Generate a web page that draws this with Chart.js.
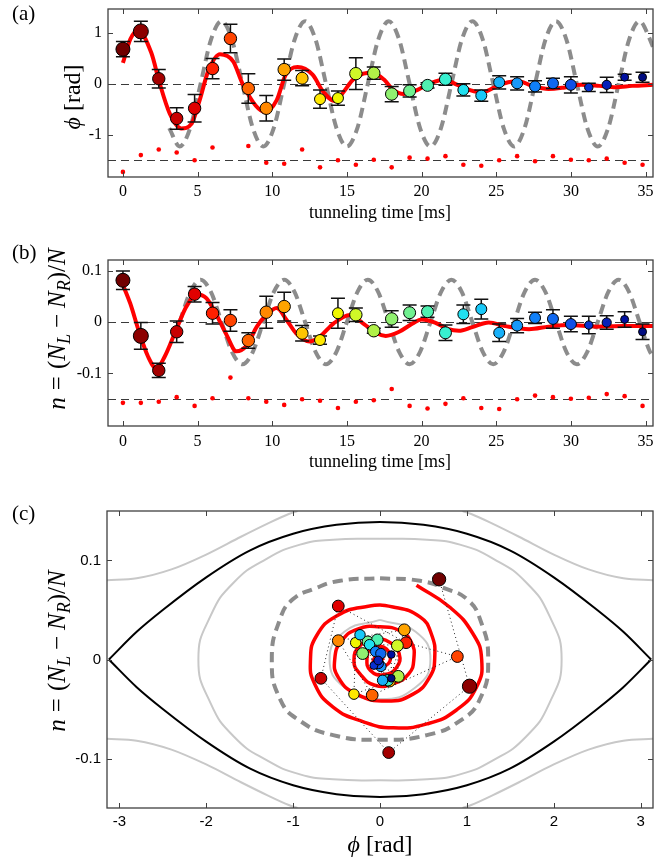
<!DOCTYPE html>
<html>
<head>
<meta charset="utf-8">
<script src="https://cdn.jsdelivr.net/npm/chart.js@4.4.1/dist/chart.umd.min.js"></script>
<style>
  html, body { margin: 0; padding: 0; background: #fff; }
  #wrap { position: relative; width: 672px; height: 858px; }
  canvas { position: absolute; left: 0; }
</style>
</head>
<body>
<div id="wrap">
  <canvas id="chartA" style="top:0px" width="672" height="232"></canvas>
  <canvas id="chartB" style="top:232px" width="672" height="258"></canvas>
  <canvas id="chartC" style="top:490px" width="672" height="368"></canvas>
</div>
<script>
// measured points (shared by all three panels)
const times = [0, 1.2, 2.4, 3.6, 4.8, 6.0, 7.2, 8.4, 9.6, 10.8, 12.0, 13.2, 14.4, 15.6, 16.8,
  18.0, 19.2, 20.4, 21.6, 22.8, 24.0, 25.2, 26.4, 27.6, 28.8, 30.0, 31.2, 32.4, 33.6, 34.8];
const phiData = [0.68, 1.03, 0.10, -0.68, -0.48, 0.30, 0.89, -0.09, -0.48, 0.28, 0.11, -0.30, -0.28, 0.20, 0.21,
  -0.20, -0.14, -0.03, 0.09, -0.12, -0.23, 0.03, 0.01, -0.05, 0.01, -0.02, -0.07, -0.02, 0.13, 0.13];
const phiErr = [0.15, 0.20, 0.18, 0.21, 0.27, 0.20, 0.28, 0.29, 0.25, 0.21, 0.15, 0.18, 0.14, 0.31, 0.12,
  0.15, 0.12, 0.05, 0.12, 0.12, 0.11, 0.13, 0.13, 0.11, 0.10, 0.16, 0.08, 0.15, 0.06, 0.10];
const nData = [0.081, -0.027, -0.094, -0.019, 0.054, 0.017, 0.003, -0.036, 0.019, 0.030, -0.022, -0.035, 0.017, 0.014, -0.017,
  0.006, 0.018, 0.020, -0.021, 0.015, 0.025, -0.021, -0.007, 0.008, 0.006, -0.004, -0.006, -0.001, 0.005, -0.019];
const nErr = [0.018, 0.026, 0.014, 0.021, 0.015, 0.021, 0.021, 0.015, 0.031, 0.028, 0.015, 0.008, 0.029, 0.013, 0.005,
  0.016, 0.015, 0.011, 0.015, 0.018, 0.019, 0.017, 0.014, 0.011, 0.018, 0.015, 0.017, 0.013, 0.015, 0.015];

// residual dots drawn around the lower dashed line
const phiNoise = [-1.73, -1.40, -1.29, -1.35, -1.50, -1.25, null, -1.22, -1.55, -1.57, -1.29, -1.64, -1.50, -1.59, -1.49,
  -1.64, -1.45, -1.47, -1.42, -1.59, -1.61, -1.50, -1.42, -1.52, -1.42, -1.49, -1.50, -1.47, -1.55, -1.59];
const nNoise = [-0.157, -0.157, -0.155, -0.146, -0.163, -0.148, -0.108, -0.148, -0.155, -0.161, -0.150, -0.153, -0.167, -0.155, -0.152,
  -0.130, -0.163, -0.168, -0.159, -0.148, -0.167, -0.169, -0.150, -0.143, -0.146, -0.149, -0.147, -0.140, -0.144, -0.163];

// red fits
const fitTimeA = [0, 0.5, 1.0, 1.9, 2.46, 3.13, 3.9, 4.6, 5.14, 5.7, 6.5, 7.38, 8.0, 8.9, 9.5, 10.3, 10.9, 11.7, 12.7, 13.4,
  14.2, 14.8, 15.4, 16.1, 16.7, 17.5, 18.1, 18.8, 19.5, 20.6, 21.5, 22.4, 23.3, 24.0, 24.9, 25.8, 26.5, 27.4, 28.5, 29.6,
  30.7, 31.9, 33.0, 34.1, 35.5];
const fitPhi = [0.41, 0.88, 1.05, 0.61, 0.01, -0.58, -0.875, -0.78, -0.32, 0.24, 0.58, 0.44, 0.01, -0.43, -0.55, -0.32, 0.18, 0.33, 0.18, -0.15,
  -0.34, -0.15, 0.08, 0.20, 0.22, 0.08, -0.12, -0.20, -0.15, 0.01, 0.08, -0.02, -0.13, -0.17, -0.07, 0.03, 0.05, -0.04, -0.10, -0.07,
  -0.02, -0.04, -0.065, -0.04, -0.02];
const fitTimeB = [0, 0.49, 1.08, 1.68, 2.24, 2.8, 3.47, 4.25, 4.95, 5.6, 6.27, 6.94, 7.6, 8.3, 8.97, 9.6, 10.3, 10.96, 11.6, 12.5,
  13.2, 14.1, 15.2, 16.1, 17.0, 17.6, 18.5, 19.4, 20.0, 20.9, 21.8, 22.5, 23.4, 24.5, 25.6, 27.2, 28.5, 29.9, 31.7, 33.5, 35.5];
const fitN = [0.072, 0.036, -0.019, -0.067, -0.090, -0.067, -0.022, 0.030, 0.054, 0.046, 0.0135, -0.025, -0.057, -0.045, -0.009, 0.0135, 0.027, 0.004, -0.022, -0.038,
  -0.028, -0.003, 0.0135, -0.003, -0.022, -0.027, -0.019, -0.003, 0.005, -0.001, -0.014, -0.017, -0.010, -0.001, -0.008, -0.014, -0.009, -0.006, -0.009, -0.008, -0.008];

// grey dashed undamped oscillation
const freeTimeA = [3.1, 3.8, 4.5, 5.2, 5.9, 6.6, 7.3, 8.0, 8.7, 9.4, 10.1, 10.8, 11.5, 12.2, 12.9, 13.6, 14.3, 15.0, 15.7, 16.4,
  17.1, 17.8, 18.5, 19.2, 19.9, 20.6, 21.3, 22.0, 22.7, 23.4, 24.1, 24.8, 25.5, 26.2, 26.9, 27.6, 28.3, 29.0, 29.7, 30.4,
  31.1, 31.8, 32.5, 33.2, 33.9, 34.6, 35.3, 35.5];
const freePhi = [-0.87, -1.23, -0.87, 0, 0.87, 1.23, 0.87, 0, -0.87, -1.23, -0.87, 0, 0.87, 1.23, 0.87, 0, -0.87, -1.23, -0.87, 0,
  0.87, 1.23, 0.87, 0, -0.87, -1.23, -0.87, 0, 0.87, 1.23, 0.87, 0, -0.87, -1.23, -0.87, 0, 0.87, 1.23, 0.87, 0,
  -0.87, -1.23, -0.87, 0, 0.87, 1.23, 0.87, 0.72];
const freeTimeB = [3.8, 4.5, 5.2, 5.9, 6.6, 7.3, 8.0, 8.7, 9.4, 10.1, 10.8, 11.5, 12.2, 12.9, 13.6, 14.3, 15.0, 15.7, 16.4, 17.1,
  17.8, 18.5, 19.2, 19.9, 20.6, 21.3, 22.0, 22.7, 23.4, 24.1, 24.8, 25.5, 26.2, 26.9, 27.6, 28.3, 29.0, 29.7, 30.4, 31.1,
  31.8, 32.5, 33.2, 33.9, 34.6, 35.3, 35.5];
const freeN = [0, 0.058, 0.082, 0.058, 0, -0.058, -0.082, -0.058, 0, 0.058, 0.082, 0.058, 0, -0.058, -0.082, -0.058, 0, 0.058, 0.082, 0.058,
  0, -0.058, -0.082, -0.058, 0, 0.058, 0.082, 0.058, 0, -0.058, -0.082, -0.058, 0, 0.058, 0.082, 0.058, 0, -0.058, -0.082, -0.058,
  0, 0.058, 0.082, 0.058, 0, -0.058, -0.066];

// phase portrait curves (c)
const sepPhi = [-3.12, -2.8, -2.5, -2.0, -1.5, -1.0, -0.5, 0, 0.5, 1.0, 1.5, 2.0, 2.5, 2.8, 3.12];
const sepN = [0, 0.028, 0.050, 0.083, 0.110, 0.127, 0.136, 0.139, 0.136, 0.127, 0.110, 0.083, 0.050, 0.028, 0];
const runPhi = [-3.1416, -2.8, -2.4, -2.0, -1.6, -1.3, -1.05, -0.95];
const runN = [0.080, 0.082, 0.091, 0.106, 0.124, 0.137, 0.147, 0.150];
const bigOrbitPhi = [0, 0.54, 0.92, 1.30, 1.68, 1.95, 2.09, 1.95, 1.68, 1.30, 0.92, 0.54, 0, -0.54, -0.92, -1.30, -1.68, -1.95, -2.09, -1.95, -1.68, -1.30, -0.92, -0.54, 0];
const bigOrbitN = [0.122, 0.121, 0.116, 0.102, 0.078, 0.044, 0, -0.044, -0.078, -0.102, -0.116, -0.121, -0.122, -0.121, -0.116, -0.102, -0.078, -0.044, 0, 0.044, 0.078, 0.102, 0.116, 0.121, 0.122];
const smallRingPhi = [0, 0.41, 0.58, 0.41, 0, -0.41, -0.58, -0.41, 0];
const smallRingN = [0.040, 0.028, 0, -0.028, -0.040, -0.028, 0, 0.028, 0.040];
const freeOrbitPhi = [0, 0.46, 0.77, 1.0, 1.15, 1.245, 1.15, 0.92, 0.54, 0, -0.54, -0.92, -1.15, -1.245, -1.15, -1.0, -0.77, -0.46, 0];
const freeOrbitN = [0.082, 0.0795, 0.071, 0.061, 0.041, 0, -0.040, -0.062, -0.0764, -0.081, -0.0764, -0.062, -0.040, 0, 0.041, 0.061, 0.071, 0.0795, 0.082];
const spiralPhi = [0.42, 0.80, 1.07, 1.17, 1.11, 0.88, 0.54, 0.15, -0.19, -0.54, -0.75, -0.80, -0.73, -0.50, -0.15, 0.15,
  0.46, 0.59, 0.63, 0.57, 0.38, 0.08, -0.27, -0.48, -0.52, -0.44, -0.25, 0.0, 0.23, 0.36, 0.39, 0.33, 0.15, -0.06,
  -0.23, -0.30, -0.23, -0.06, 0.11, 0.22, 0.19, 0.04, -0.11, -0.15, -0.10, 0.04, 0.12, 0.06, -0.05, -0.07, 0.0, 0.04];
const spiralN = [0.075, 0.053, 0.026, 0.0, -0.028, -0.051, -0.065, -0.069, -0.063, -0.048, -0.025, 0.0, 0.024, 0.044, 0.0535, 0.053,
  0.043, 0.026, 0.002, -0.018, -0.035, -0.042, -0.035, -0.018, 0.001, 0.019, 0.031, 0.033, 0.029, 0.0175, 0.001, -0.0145, -0.0245, -0.026,
  -0.0145, -0.001, 0.014, 0.020, 0.0175, 0.006, -0.008, -0.0155, -0.011, 0.001, 0.011, 0.0125, 0.002, -0.0065, -0.0055, 0.0005, 0.004, -0.001];

// axis ticks
const timeTicks = [0, 5, 10, 15, 20, 25, 30, 35];
const timeTickLabels = ['0', '5', '10', '15', '20', '25', '30', '35'];
const phiTicksA = [-1, 0, 1];
const phiTickLabelsA = ['-1', '0', '1'];
const nTicks = [-0.1, 0, 0.1];
const nTickLabels = ['-0.1', '0', '0.1'];
const phiTicksC = [-3, -2, -1, 0, 1, 2, 3];
const phiTickLabelsC = ['-3', '-2', '-1', '0', '1', '2', '3'];

// styling
const colors = ['#700000', '#8c0000', '#a40000', '#c80000', '#e00000', '#ff2000', '#ff4400', '#ff6400', '#ff8800', '#ffa400',
  '#ffc400', '#ffe800', '#f0f800', '#d0f828', '#b0f048', '#90f070', '#70f090', '#50f0b0', '#38f0d0', '#20e0f0',
  '#18c8f8', '#18b0f8', '#1898f8', '#1080f8', '#1068f0', '#1050e8', '#0830d0', '#0820b8', '#0010a0', '#000c80'];
const radii = [7, 7.5, 6.2, 6.2, 6.2, 6.2, 6.2, 6.2, 6.2, 6.2, 6, 5.5, 5.5, 6.2, 6.2,
  6.2, 6, 6, 6, 5.5, 5.5, 5.5, 5.5, 5.5, 5.5, 5.5, 4.2, 4.6, 4, 4];

const SERIF = '"Liberation Serif", "DejaVu Serif", serif';
const SANS = '"Liberation Sans", Arial, sans-serif';
const FRAME = '#404040';

const pts = (xs, ys) => xs.map((x, i) => ({ x: x, y: ys[i] })).filter(p => p.y !== null && p.y !== undefined);
const neg = arr => arr.map(v => -v);

const phiTitle = [{ t: '\u03d5', it: true }, { gap: 0.25 }, { t: '[rad]' }];
const nTitle = [{ t: 'n', it: true }, { gap: 0.28 }, { t: '=' }, { gap: 0.28 }, { t: '(' }, { t: 'N', it: true }, { t: 'L', it: true, sub: true },
  { gap: 0.24 }, { t: '\u2212' }, { gap: 0.24 }, { t: 'N', it: true }, { t: 'R', it: true, sub: true }, { t: ')/' }, { t: 'N', it: true }];

function drawRich(ctx, parts, cx, cy, size, rotate) {
  ctx.save();
  ctx.translate(cx, cy);
  if (rotate) ctx.rotate(-Math.PI / 2);
  const fontFor = p => (p.it ? 'italic ' : '') + Math.round(p.sub ? size * 0.7 : size) + 'px ' + SERIF;
  let w = 0;
  parts.forEach(p => {
    if (p.gap) { p.w = p.gap * size; } else { ctx.font = fontFor(p); p.w = ctx.measureText(p.t).width; }
    w += p.w;
  });
  let x = -w / 2;
  ctx.fillStyle = '#000';
  ctx.textAlign = 'left';
  ctx.textBaseline = 'alphabetic';
  parts.forEach(p => {
    if (!p.gap) {
      ctx.font = fontFor(p);
      ctx.fillText(p.t, x, size * 0.35 + (p.sub ? size * 0.22 : 0));
    }
    x += p.w;
  });
  ctx.restore();
}

function decor(o) {
  return {
    id: 'decor',
    beforeDatasetsDraw(chart) {
      const { ctx, chartArea: a, scales } = chart;
      ctx.save();
      ctx.strokeStyle = '#3a3a3a';
      ctx.lineWidth = 1;
      ctx.setLineDash([8, 5]);
      (o.refLines || []).forEach(v => {
        const py = Math.round(scales.y.getPixelForValue(v)) + 0.5;
        ctx.beginPath(); ctx.moveTo(a.left, py); ctx.lineTo(a.right, py); ctx.stroke();
      });
      ctx.restore();
    },
    beforeDatasetDraw(chart, args) {
      const ds = chart.data.datasets[args.index];
      if (!ds.errors) return;
      const { ctx, scales } = chart;
      ctx.save();
      ctx.strokeStyle = '#111';
      ctx.lineWidth = 1.5;
      ds.data.forEach((p, i) => {
        const px = scales.x.getPixelForValue(p.x);
        const y1 = scales.y.getPixelForValue(p.y + ds.errors[i]);
        const y2 = scales.y.getPixelForValue(p.y - ds.errors[i]);
        ctx.beginPath();
        ctx.moveTo(px, y1); ctx.lineTo(px, y2);
        ctx.moveTo(px - 7, y1); ctx.lineTo(px + 7, y1);
        ctx.moveTo(px - 7, y2); ctx.lineTo(px + 7, y2);
        ctx.stroke();
      });
      ctx.restore();
    },
    afterDraw(chart) {
      const { ctx, chartArea: a, scales } = chart;
      ctx.save();
      ctx.strokeStyle = FRAME;
      ctx.lineWidth = 1.3;
      ctx.strokeRect(a.left, a.top, a.right - a.left, a.bottom - a.top);
      ctx.lineWidth = 1;
      ctx.beginPath();
      o.xTicks.forEach(v => {
        const px = Math.round(scales.x.getPixelForValue(v)) + 0.5;
        ctx.moveTo(px, a.bottom); ctx.lineTo(px, a.bottom - 5);
        ctx.moveTo(px, a.top); ctx.lineTo(px, a.top + 5);
      });
      o.yTicks.forEach(v => {
        const py = Math.round(scales.y.getPixelForValue(v)) + 0.5;
        ctx.moveTo(a.left, py); ctx.lineTo(a.left + 5, py);
        ctx.moveTo(a.right, py); ctx.lineTo(a.right - 5, py);
      });
      ctx.stroke();
      ctx.fillStyle = '#000';
      ctx.font = '21px ' + SERIF;
      ctx.textAlign = 'left';
      ctx.textBaseline = 'middle';
      ctx.fillText(o.panel, o.panelX, o.panelY);
      if (o.xTitle) {
        ctx.font = '18px ' + SERIF;
        ctx.textAlign = 'center';
        ctx.fillText(o.xTitle, o.xTitleX, o.xTitleY);
      }
      if (o.xRich) drawRich(ctx, o.xRich, o.xTitleX, o.xTitleY, o.xRichSize, false);
      drawRich(ctx, o.yRich, o.yTitleX, o.yTitleY, o.yRichSize, true);
      ctx.restore();
    }
  };
}

function baseOptions(c) {
  return {
    responsive: false,
    animation: false,
    events: [],
    layout: { padding: { left: 0, top: c.top, right: c.W - c.right, bottom: 0 } },
    plugins: { legend: { display: false }, tooltip: { enabled: false } },
    scales: {
      x: {
        type: 'linear', min: c.xMin, max: c.xMax,
        grid: { display: false, drawTicks: false }, border: { display: false },
        afterBuildTicks: s => { s.ticks = c.xTicks.map(v => ({ value: v })); },
        afterFit: s => { s.height = c.H - c.bottom; s.paddingLeft = 0; s.paddingRight = 0; },
        ticks: { autoSkip: false, maxRotation: 0, padding: c.xPad, color: '#000', font: c.tickFont,
          callback: (v, i) => c.xLabels[i] }
      },
      y: {
        type: 'linear', min: c.yMin, max: c.yMax,
        grid: { display: false, drawTicks: false }, border: { display: false },
        afterBuildTicks: s => { s.ticks = c.yTicks.map(v => ({ value: v })); },
        afterFit: s => { s.width = c.left; s.paddingTop = 0; s.paddingBottom = 0; },
        ticks: { autoSkip: false, padding: 6, color: '#000', font: c.tickFont,
          callback: (v, i) => c.yLabels[i] }
      }
    }
  };
}

const line = (data, color, width, extra) => Object.assign({
  data: data, showLine: true, pointRadius: 0, borderColor: color, borderWidth: width, fill: false, clip: 0
}, extra || {});

// panel (a)
new Chart(document.getElementById('chartA'), {
  type: 'scatter',
  data: { datasets: [
    { data: pts(times, phiData), errors: phiErr, pointRadius: radii, pointBackgroundColor: colors,
      pointBorderColor: '#000', pointBorderWidth: 1, order: 0 },
    { data: pts(times, phiNoise), pointRadius: 2.3, pointBackgroundColor: '#ff0000', pointBorderWidth: 0, order: 1 },
    line(pts(fitTimeA, fitPhi), '#ff0000', 4, { cubicInterpolationMode: 'monotone', order: 2 }),
    line(pts(freeTimeA, freePhi), '#8c8c8c', 4, { borderDash: [10, 6], cubicInterpolationMode: 'monotone', order: 3 })
  ] },
  options: baseOptions({ W: 672, H: 232, left: 108, right: 653, top: 9, bottom: 177,
    xMin: -1, xMax: 35.5, yMin: -1.83, yMax: 1.47, xTicks: timeTicks, xLabels: timeTickLabels,
    yTicks: phiTicksA, yLabels: phiTickLabelsA, xPad: 5, tickFont: { family: SERIF, size: 16 } }),
  plugins: [decor({ refLines: [0, -1.5], xTicks: timeTicks, yTicks: phiTicksA,
    panel: '(a)', panelX: 12, panelY: 14, xTitle: 'tunneling time [ms]', xTitleX: 380, xTitleY: 213,
    yRich: phiTitle, yRichSize: 24, yTitleX: 72, yTitleY: 97 })]
});

// panel (b)
new Chart(document.getElementById('chartB'), {
  type: 'scatter',
  data: { datasets: [
    { data: pts(times, nData), errors: nErr, pointRadius: radii, pointBackgroundColor: colors,
      pointBorderColor: '#000', pointBorderWidth: 1, order: 0 },
    { data: pts(times, nNoise), pointRadius: 2.3, pointBackgroundColor: '#ff0000', pointBorderWidth: 0, order: 1 },
    line(pts(fitTimeB, fitN), '#ff0000', 4, { cubicInterpolationMode: 'monotone', order: 2 }),
    line(pts(freeTimeB, freeN), '#8c8c8c', 4, { borderDash: [10, 6], cubicInterpolationMode: 'monotone', order: 3 })
  ] },
  options: baseOptions({ W: 672, H: 258, left: 108, right: 653, top: 28, bottom: 194,
    xMin: -1, xMax: 35.5, yMin: -0.202, yMax: 0.1204, xTicks: timeTicks, xLabels: timeTickLabels,
    yTicks: nTicks, yLabels: nTickLabels, xPad: 6, tickFont: { family: SERIF, size: 16 } }),
  plugins: [decor({ refLines: [0, -0.15], xTicks: timeTicks, yTicks: nTicks,
    panel: '(b)', panelX: 12, panelY: 21, xTitle: 'tunneling time [ms]', xTitleX: 380, xTitleY: 230,
    yRich: nTitle, yRichSize: 25, yTitleX: 56, yTitleY: 97 })]
});

// panel (c)
new Chart(document.getElementById('chartC'), {
  type: 'scatter',
  data: { datasets: [
    { data: pts(phiData, nData), pointRadius: radii.map(r => r * 0.95), pointBackgroundColor: colors,
      pointBorderColor: '#000', pointBorderWidth: 1, order: 0 },
    line(pts(phiData, nData), '#222', 1, { borderDash: [1, 3], order: 1 }),
    line(pts(spiralPhi, spiralN), '#ff0000', 3.5, { tension: 0.5, order: 2 }),
    line(pts(freeOrbitPhi, freeOrbitN), '#8c8c8c', 4, { borderDash: [10, 6], tension: 0.5, order: 3 }),
    line(pts(sepPhi, sepN), '#000', 2, { cubicInterpolationMode: 'monotone', order: 4 }),
    line(pts(sepPhi, neg(sepN)), '#000', 2, { cubicInterpolationMode: 'monotone', order: 4 }),
    line(pts(bigOrbitPhi, bigOrbitN), '#c8c8c8', 2, { tension: 0.5, order: 5 }),
    line(pts(smallRingPhi, smallRingN), '#c8c8c8', 2, { tension: 0.5, order: 5 }),
    line(pts(runPhi, runN), '#c8c8c8', 2, { cubicInterpolationMode: 'monotone', order: 5 }),
    line(pts(neg(runPhi), runN), '#c8c8c8', 2, { cubicInterpolationMode: 'monotone', order: 5 }),
    line(pts(runPhi, neg(runN)), '#c8c8c8', 2, { cubicInterpolationMode: 'monotone', order: 5 }),
    line(pts(neg(runPhi), neg(runN)), '#c8c8c8', 2, { cubicInterpolationMode: 'monotone', order: 5 })
  ] },
  options: baseOptions({ W: 672, H: 368, left: 107, right: 653, top: 21, bottom: 318,
    xMin: -3.1416, xMax: 3.1416, yMin: -0.15, yMax: 0.15, xTicks: phiTicksC, xLabels: phiTickLabelsC,
    yTicks: nTicks, yLabels: nTickLabels, xPad: 5, tickFont: { family: SANS, size: 15 } }),
  plugins: [decor({ xTicks: phiTicksC, yTicks: nTicks,
    panel: '(c)', panelX: 12, panelY: 24, xRich: phiTitle, xRichSize: 24, xTitleX: 380, xTitleY: 354,
    yRich: nTitle, yRichSize: 25, yTitleX: 56, yTitleY: 161 })]
});
</script>
</body>
</html>
